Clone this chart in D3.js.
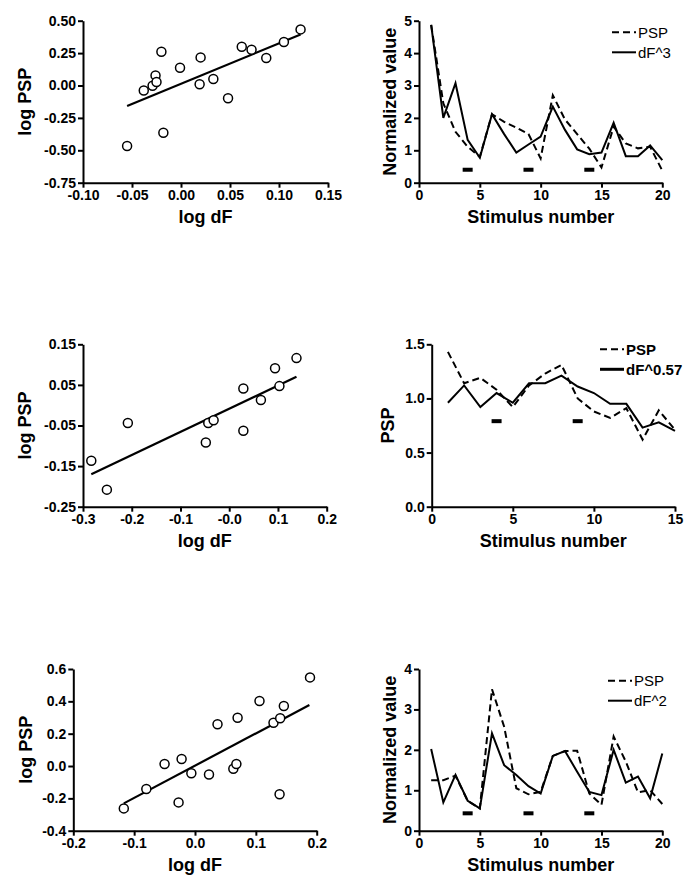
<!DOCTYPE html>
<html>
<head>
<meta charset="utf-8">
<script src="https://cdnjs.cloudflare.com/ajax/libs/d3/7.8.5/d3.min.js"></script>
<style>
  body { margin: 0; background: #fff; }
  svg { display: block; font-family: 'Liberation Sans', Arial, sans-serif; }
  .axis path, .axis line { stroke: #000; stroke-width: 2px; }
  .axis text { font-size: 14px; font-weight: bold; fill: #000; }
  .title { font-size: 18px; font-weight: bold; fill: #000; }
  .legend { font-size: 15px; fill: #000; }
</style>
</head>
<body>
<svg id="chart" width="698" height="888"></svg>
<script>
// ---- scatter panels (log dF vs log PSP) ----
const scatterA_dF = [-0.055, -0.038, -0.029, -0.026, -0.025, -0.020, -0.018, -0.001, 0.019, 0.020, 0.033, 0.048, 0.062, 0.072, 0.087, 0.105, 0.122]
const scatterA_PSP = [-0.467, -0.038, -0.002, 0.078, 0.027, 0.261, -0.364, 0.137, 0.009, 0.217, 0.050, -0.099, 0.299, 0.276, 0.212, 0.335, 0.433]
const fitA_dF = [-0.055, 0.122]
const fitA_PSP = [-0.158, 0.394]
const xTicksA = ['-0.10', '-0.05', '0.00', '0.05', '0.10', '0.15']
const yTicksA = ['0.50', '0.25', '0.00', '-0.25', '-0.50', '-0.75']

const scatterB_dF = [-0.283, -0.251, -0.208, -0.048, -0.043, -0.032, 0.029, 0.029, 0.065, 0.094, 0.103, 0.138]
const scatterB_PSP = [-0.137, -0.208, -0.044, -0.092, -0.044, -0.037, -0.063, 0.041, 0.013, 0.091, 0.047, 0.116]
const fitB_dF = [-0.283, 0.138]
const fitB_PSP = [-0.170, 0.070]
const xTicksB = ['-0.3', '-0.2', '-0.1', '-0.0', '0.1', '0.2']
const yTicksB = ['0.15', '0.05', '-0.05', '-0.15', '-0.25']

const scatterC_dF = [-0.117, -0.080, -0.050, -0.027, -0.022, -0.006, 0.023, 0.037, 0.063, 0.068, 0.070, 0.106, 0.129, 0.139, 0.140, 0.146, 0.189]
const scatterC_PSP = [-0.262, -0.142, 0.012, -0.225, 0.043, -0.045, -0.052, 0.258, -0.017, 0.012, 0.299, 0.402, 0.268, -0.175, 0.295, 0.371, 0.548]
const fitC_dF = [-0.117, 0.188]
const fitC_PSP = [-0.231, 0.377]
const xTicksC = ['-0.2', '-0.1', '0.0', '0.1', '0.2']
const yTicksC = ['0.6', '0.4', '0.2', '0.0', '-0.2', '-0.4']

// ---- stimulus series panels ----
const stim20 = [1, 2, 3, 4, 5, 6, 7, 8, 9, 10, 11, 12, 13, 14, 15, 16, 17, 18, 19, 20]
const stim15 = [1, 2, 3, 4, 5, 6, 7, 8, 9, 10, 11, 12, 13, 14, 15]

const pspA = [4.87, 2.45, 1.57, 1.11, 0.80, 2.11, 1.88, 1.70, 1.50, 0.75, 2.70, 1.95, 1.50, 1.05, 0.47, 1.73, 1.21, 1.06, 1.11, 0.37]
const dF3 = [4.87, 2.00, 3.07, 1.32, 0.77, 2.11, 1.50, 0.93, 1.18, 1.42, 2.35, 1.63, 1.03, 0.88, 0.93, 1.85, 0.82, 0.82, 1.15, 0.70]
const marksA = [4, 9, 14]
const markLevelA = 0.4

const pspB = [1.43, 1.14, 1.19, 1.08, 0.92, 1.12, 1.23, 1.31, 1.00, 0.88, 0.82, 0.91, 0.62, 0.89, 0.71]
const dF057 = [0.96, 1.12, 0.92, 1.05, 0.96, 1.14, 1.14, 1.21, 1.11, 1.05, 0.95, 0.95, 0.73, 0.78, 0.70]
const marksB = [4, 9]
const markLevelB = 0.79

const pspC = [1.25, 1.25, 1.36, 0.74, 0.55, 3.50, 2.57, 1.05, 0.90, 0.96, 1.85, 1.97, 1.98, 0.92, 0.64, 2.33, 1.71, 0.95, 1.00, 0.66]
const dF2 = [2.02, 0.70, 1.38, 0.74, 0.55, 2.41, 1.62, 1.38, 1.10, 0.92, 1.85, 1.97, 1.46, 0.96, 0.88, 2.00, 1.19, 1.34, 0.80, 1.91]
const marksC = [4, 9, 14]
const markLevelC = 0.43

const svg = d3.select('#chart')
const DASH = '7,4'

function frame({ g, x, y, xLabels, yLabels, xTitle, yTitle, yTitleX, w, h }) {
  g.append('g')
    .attr('class', 'axis')
    .attr('transform', `translate(0,${h})`)
    .call(d3.axisBottom(x).tickValues(xLabels.map(Number)).tickFormat((d, i) => xLabels[i])
      .tickSize(5).tickSizeOuter(0).tickPadding(2))

  g.append('g')
    .attr('class', 'axis')
    .call(d3.axisLeft(y).tickValues(yLabels.map(Number)).tickFormat((d, i) => yLabels[i])
      .tickSize(5).tickSizeOuter(0).tickPadding(2))

  g.append('text')
    .attr('class', 'title')
    .attr('x', w / 2)
    .attr('y', h + 40)
    .attr('text-anchor', 'middle')
    .text(xTitle)

  g.append('text')
    .attr('class', 'title')
    .attr('transform', `translate(${yTitleX},${h / 2}) rotate(-90)`)
    .attr('dy', '0.35em')
    .attr('text-anchor', 'middle')
    .text(yTitle)
}

function drawScatter({ left, top, w, h, xs, ys, fitX, fitY, xLabels, yLabels, yTitleX }) {
  const g = svg.append('g').attr('transform', `translate(${left},${top})`)
  const xNums = xLabels.map(Number)
  const yNums = yLabels.map(Number)
  const x = d3.scaleLinear().domain(d3.extent(xNums)).range([0, w])
  const y = d3.scaleLinear().domain(d3.extent(yNums)).range([h, 0])

  frame({ g, x, y, xLabels, yLabels, xTitle: 'log dF', yTitle: 'log PSP', yTitleX, w, h })

  g.append('line')
    .attr('x1', x(fitX[0])).attr('y1', y(fitY[0]))
    .attr('x2', x(fitX[1])).attr('y2', y(fitY[1]))
    .attr('stroke', '#000')
    .attr('stroke-width', 2.2)

  g.selectAll('circle')
    .data(xs.map((d, i) => [d, ys[i]]))
    .enter()
    .append('circle')
    .attr('cx', d => x(d[0]))
    .attr('cy', d => y(d[1]))
    .attr('r', 4.5)
    .attr('fill', '#fff')
    .attr('stroke', '#000')
    .attr('stroke-width', 1.5)
}

function drawSeries({ left, top, w, h, stim, psp, model, modelName, marks, markLevel,
                      xLabels, yLabels, yTitle, yTitleX, legendX, legendY, boldLegend }) {
  const g = svg.append('g').attr('transform', `translate(${left},${top})`)
  const xNums = xLabels.map(Number)
  const yNums = yLabels.map(Number)
  const x = d3.scaleLinear().domain(d3.extent(xNums)).range([0, w])
  const y = d3.scaleLinear().domain(d3.extent(yNums)).range([h, 0])

  frame({ g, x, y, xLabels, yLabels, xTitle: 'Stimulus number', yTitle, yTitleX, w, h })

  const line = d3.line().x(d => x(d[0])).y(d => y(d[1]))

  g.append('path')
    .datum(stim.map((s, i) => [s, psp[i]]))
    .attr('d', line)
    .attr('fill', 'none')
    .attr('stroke', '#000')
    .attr('stroke-width', 2)
    .attr('stroke-dasharray', DASH)

  g.append('path')
    .datum(stim.map((s, i) => [s, model[i]]))
    .attr('d', line)
    .attr('fill', 'none')
    .attr('stroke', '#000')
    .attr('stroke-width', 2)

  // stimulus markers
  g.selectAll('.mark')
    .data(marks)
    .enter()
    .append('rect')
    .attr('class', 'mark')
    .attr('x', d => x(d) - 5)
    .attr('y', y(markLevel) - 2)
    .attr('width', 10)
    .attr('height', 4)
    .attr('fill', '#000')

  // legend
  const lg = g.append('g').attr('transform', `translate(${legendX},${legendY})`)
  const rows = [{ name: 'PSP', dash: DASH, width: 2 }, { name: modelName, dash: null, width: boldLegend ? 3 : 2 }]
  rows.forEach((r, i) => {
    lg.append('line')
      .attr('x1', 0).attr('x2', 24)
      .attr('y1', i * 20).attr('y2', i * 20)
      .attr('stroke', '#000')
      .attr('stroke-width', r.width)
      .attr('stroke-dasharray', r.dash)
    lg.append('text')
      .attr('class', 'legend')
      .attr('x', 26)
      .attr('y', i * 20)
      .attr('dy', '0.35em')
      .style('font-weight', boldLegend ? 'bold' : 'normal')
      .text(r.name)
  })
}

drawScatter({ left: 83, top: 20.7, w: 245, h: 162, xs: scatterA_dF, ys: scatterA_PSP,
  fitX: fitA_dF, fitY: fitA_PSP, xLabels: xTicksA, yLabels: yTicksA, yTitleX: -58 })

drawSeries({ left: 419, top: 20.7, w: 243.3, h: 162, stim: stim20, psp: pspA, model: dF3,
  modelName: 'dF^3', marks: marksA, markLevel: markLevelA,
  xLabels: ['0', '5', '10', '15', '20'], yLabels: ['0', '1', '2', '3', '4', '5'],
  yTitle: 'Normalized value', yTitleX: -29, legendX: 193, legendY: 11.6 })

drawScatter({ left: 83, top: 344.3, w: 243.7, h: 162.4, xs: scatterB_dF, ys: scatterB_PSP,
  fitX: fitB_dF, fitY: fitB_PSP, xLabels: xTicksB, yLabels: yTicksB, yTitleX: -58 })

drawSeries({ left: 431.7, top: 344.3, w: 243.3, h: 162.4, stim: stim15, psp: pspB, model: dF057,
  modelName: 'dF^0.57', marks: marksB, markLevel: markLevelB,
  xLabels: ['0', '5', '10', '15'], yLabels: ['0.0', '0.5', '1.0', '1.5'],
  yTitle: 'PSP', yTitleX: -44, legendX: 168.3, legendY: 5, boldLegend: true })

drawScatter({ left: 73.3, top: 669, w: 243.4, h: 161.7, xs: scatterC_dF, ys: scatterC_PSP,
  fitX: fitC_dF, fitY: fitC_PSP, xLabels: xTicksC, yLabels: yTicksC, yTitleX: -48 })

drawSeries({ left: 419, top: 669, w: 243.3, h: 161.7, stim: stim20, psp: pspC, model: dF2,
  modelName: 'dF^2', marks: marksC, markLevel: markLevelC,
  xLabels: ['0', '5', '10', '15', '20'], yLabels: ['0', '1', '2', '3', '4'],
  yTitle: 'Normalized value', yTitleX: -29, legendX: 189, legendY: 11.7 })
</script>
</body>
</html>
